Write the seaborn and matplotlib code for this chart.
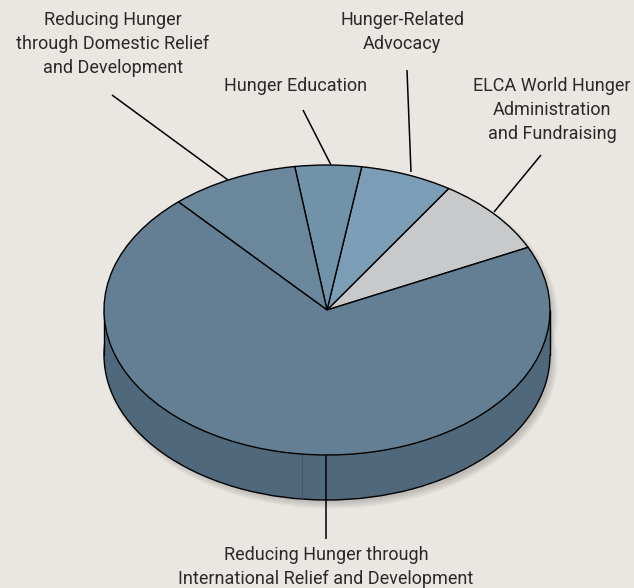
import matplotlib
matplotlib.use("Agg")
import matplotlib.pyplot as plt
from matplotlib.patches import Rectangle, Ellipse
from matplotlib.transforms import Affine2D
import seaborn as sns

W, H = 634, 588
BG = "#eae7e2"
sns.set_theme(style="white", rc={"figure.facecolor": BG, "axes.facecolor": BG})
plt.rcParams["font.family"] = ["Roboto", "DejaVu Sans"]

categories = ["ELCA World Hunger\nAdministration\nand Fundraising",
              "Hunger-Related\nAdvocacy",
              "Hunger Education",
              "Reducing Hunger\nthrough Domestic Relief\nand Development",
              "Reducing Hunger through\nInternational Relief and Development"]
shares = [8.7, 6.7, 4.8, 9.3, 70.5]
colors = ["#c8c9cb", "#7b9db5", "#7093aa", "#6a879c", "#647f93"]
side_color = "#50687b"
start_angle = 25.6

CX, CY, RX, RY, DEPTH = 327, 310, 223, 145, 45

fig = plt.figure(figsize=(W / 100, H / 100), dpi=100)
ax = fig.add_axes([0, 0, 1, 1])
px = Affine2D().scale(1, -1).translate(0, H) + Affine2D().scale(fig.dpi / 100)

# soft shadow, falling to the lower right
for i in range(8):
    for yoff in (0, DEPTH):
        ax.add_patch(Ellipse((CX + 4, CY + yoff + 5), 2 * RX + 8 - 2 * i, 2 * RY + 8 - 2 * i,
                             transform=px, fc="#3a3a3a", ec="none", alpha=0.03, zorder=0))

d = DEPTH / RY
# pie side: same pie, shifted down
ax.pie([sum(shares)], colors=[side_color], center=(0, -d), radius=1, startangle=0,
       wedgeprops=dict(edgecolor="black", linewidth=1.0, zorder=1))
ax.add_patch(Rectangle((-1, -d), 2, d, fc=side_color, ec="none", zorder=1.5))
ax.plot([-1, -1], [-d, 0], color="black", lw=1.0, zorder=1.6)
ax.plot([1, 1], [-d, 0], color="black", lw=1.0, zorder=1.6)
ax.plot([302, 302], [CY + RY - 1, CY + RY + DEPTH - 1], transform=px, color="#45586a", lw=0.7, zorder=1.7)

# pie top
ax.pie(shares, colors=colors, center=(0, 0), radius=1, startangle=start_angle,
       counterclock=True, wedgeprops=dict(edgecolor="black", linewidth=1.0, zorder=2))

ax.set_aspect("auto")
ax.set_xlim((0 - CX) / RX, (W - CX) / RX)
ax.set_ylim((CY - H) / RY, CY / RY)
ax.axis("off")

# leaders and labels
leaders = [((494, 212), (541, 155)), ((411, 172), (407, 70)), ((331, 165), (303, 110)),
           ((228, 180), (112, 95)), ((326, 455), (326, 539))]
label_pos = [(552, 110), (402, 32), (296, 86), (113, 44), (326, 567)]
for (a, b), (lx, ly), name in zip(leaders, label_pos, categories):
    ax.plot([a[0], b[0]], [a[1], b[1]], transform=px, color="black", lw=1.1, zorder=3,
            solid_capstyle="butt", clip_on=False)
    ax.text(lx, ly, name, transform=px, ha="center", va="center", fontsize=13.0,
            color="#2b2a29", linespacing=1.4, zorder=4)

fig.savefig("out.png", dpi=100, facecolor=BG)
